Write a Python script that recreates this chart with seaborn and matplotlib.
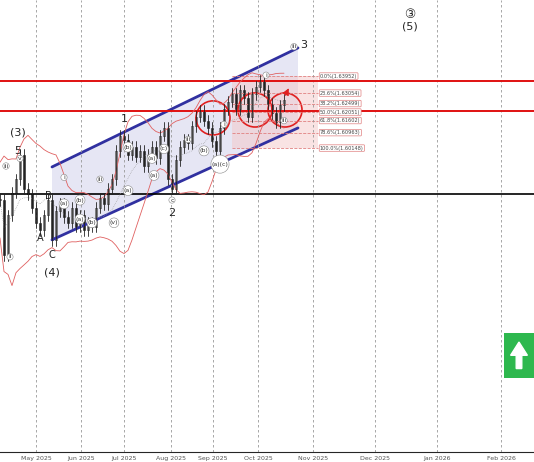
import numpy as np
import pandas as pd
import matplotlib
matplotlib.use("Agg")
import matplotlib.pyplot as plt
import seaborn as sns
from matplotlib.patches import Ellipse, Polygon, Rectangle, FancyArrow

sns.set_style("white")

closes = [1.574, 1.545, 1.566, 1.578, 1.585, 1.598, 1.580, 1.577, 1.570, 1.562, 1.558, 1.566,
          1.574, 1.553, 1.568, 1.572, 1.565, 1.562, 1.570, 1.560, 1.566, 1.558, 1.562, 1.560,
          1.570, 1.575, 1.572, 1.580, 1.585, 1.600, 1.608, 1.606, 1.598, 1.602, 1.597, 1.600,
          1.592, 1.598, 1.602, 1.596, 1.608, 1.612, 1.585, 1.580, 1.595, 1.602, 1.606, 1.604,
          1.613, 1.618, 1.621, 1.616, 1.612, 1.605, 1.600, 1.612, 1.622, 1.626, 1.630, 1.622,
          1.632, 1.628, 1.618, 1.630, 1.634, 1.637, 1.632, 1.625, 1.620, 1.615, 1.624, 1.627]
months = ["May 2025", "Jun 2025", "Jul 2025", "Aug 2025", "Sep 2025", "Oct 2025",
          "Nov 2025", "Dec 2025", "Jan 2026", "Feb 2026"]
month_pos = [9, 20.25, 31, 42.75, 53.25, 64.5, 78.25, 93.75, 109.25, 125.25]
fib_pct = ["0.0%", "23.6%", "38.2%", "50.0%", "61.8%", "78.6%", "100.0%"]
fib_val = [1.63952, 1.63054, 1.62499, 1.62051, 1.61602, 1.60963, 1.60148]
res_lines = [1.6369, 1.6211]
sup_line = 1.5773

df = pd.DataFrame({"close": closes})
df["x"] = np.arange(len(df))
df["open"] = df["close"].shift(1).fillna(df["close"])
df["mid"] = df["close"].rolling(10, min_periods=1).mean()
sd = df["close"].rolling(10, min_periods=2).std().fillna(0.01)
df["up"] = (df["mid"] + 2 * sd).rolling(3, min_periods=1).mean()
df["dn"] = (df["mid"] - 2 * sd).rolling(3, min_periods=1).mean()

fig = plt.figure(figsize=(5.34, 4.62), dpi=100)
ax = fig.add_axes([0, 0.022, 1, 0.978])
ax.set_xlim(0, 133.5)
ax.set_ylim(1.4410, 1.6797)

# channel
ax.add_patch(Polygon([(13, 1.5915), (74.5, 1.6544), (74.5, 1.6121), (13, 1.5530)],
                     closed=True, color="#dcdcf0", alpha=0.7, lw=0))
ax.plot([13, 74.5], [1.5915, 1.6544], color="#3030a0", lw=2)
ax.plot([13, 74.5], [1.5530, 1.6121], color="#3030a0", lw=2)
# fib zone
ax.add_patch(Rectangle((58, fib_val[-1]), 21.5, fib_val[0] - fib_val[-1],
                       color="#f4c8c8", alpha=0.5, lw=0))
for p, v in zip(fib_pct, fib_val):
    ax.plot([58, 79.5], [v, v], color="#e08080", lw=0.6, ls="--")
    ax.text(80, v, f"{p}({v:.5f})", fontsize=3.6, va="center", color="#444",
            bbox=dict(boxstyle="round,pad=0.15", fc="white", ec="#e08080", lw=0.5))

for m in month_pos:
    ax.axvline(m, color="#999", lw=0.6, ls=(0, (3, 3)))
for v in res_lines:
    ax.axhline(v, color="#e01010", lw=1.4)
ax.axhline(sup_line, color="black", lw=1.2)

sns.lineplot(data=df, x="x", y="up", color="#e06060", lw=0.6, ax=ax)
sns.lineplot(data=df, x="x", y="dn", color="#e06060", lw=0.6, ax=ax)
sns.lineplot(data=df, x="x", y="mid", color="#999", lw=0.5, ls=":", ax=ax)
for _, r in df.iterrows():
    hi = max(r.open, r.close) + 0.003
    lo = min(r.open, r.close) - 0.003
    ax.plot([r.x, r.x], [lo, hi], color="#222", lw=0.6)
    ax.add_patch(Rectangle((r.x - 0.3, min(r.open, r.close)), 0.6,
                           max(abs(r.close - r.open), 0.0005),
                           color="white" if r.close >= r.open else "#222",
                           ec="#222", lw=0.4))

for cx, cy in [(53.25, 1.6174), (63.75, 1.6216), (71.25, 1.6216)]:
    ax.add_patch(Ellipse((cx, cy), 8.5, 0.018, fill=False, ec="#e02020", lw=1.2))
ax.annotate("", xy=(72.5, 1.6344), xytext=(71, 1.6280),
            arrowprops=dict(arrowstyle="-|>", color="#e02020", lw=0.8))

labels = [(76, 1.6560, "3", 8), (31, 1.6167, "1", 8), (43, 1.5670, "2", 8),
          (4.5, 1.6095, "(3)", 8), (4.5, 1.6000, "5", 8), (10, 1.5540, "A", 7),
          (12, 1.5760, "B", 7), (13, 1.5450, "C", 7), (13, 1.5355, "(4)", 8),
          (102.5, 1.6720, "③", 9), (102.5, 1.6655, "(5)", 8)]
for lx, ly, t, s in labels:
    ax.text(lx, ly, t, fontsize=s, ha="center", va="center", color="#222")
small = [(5, 1.5960, "v"), (1.5, 1.5920, "iii"), (2.5, 1.5440, "ii"), (16, 1.5860, "i"),
         (16, 1.5720, "(a)"), (20, 1.5640, "(a)"), (23, 1.5620, "(b)"), (32, 1.5790, "(a)"),
         (32, 1.6020, "(b)"), (38, 1.5960, "(a)"), (41, 1.6010, "(c)"), (38.5, 1.5870, "(a)"),
         (43, 1.5740, "c"), (51, 1.6000, "(b)"), (47, 1.6060, "iii"), (55, 1.5930, "(a)(c)"),
         (56, 1.6140, "i"), (66.5, 1.6400, "i"), (71, 1.6160, "iii"), (73.5, 1.6550, "iii"),
         (25, 1.5850, "iii"), (28.5, 1.5620, "(v)"), (20, 1.5740, "(b)")]
for lx, ly, t in small:
    ax.text(lx, ly, t, fontsize=4.5, ha="center", va="center", color="#333",
            bbox=dict(boxstyle="circle,pad=0.1", fc="white", ec="#888", lw=0.4))

ax.add_patch(Rectangle((126, 1.4801), 7.5, 0.0238, color="#2eb84e", lw=0))
ax.add_patch(FancyArrow(129.75, 1.4850, 0, 0.0140, width=1.4, head_width=4.2,
                        head_length=0.0070, color="white", length_includes_head=True))

ax.set_xticks(month_pos)
ax.set_xticklabels(months, fontsize=4.5, color="#555")
ax.tick_params(axis="x", pad=1, length=2)
ax.set_yticks([])
ax.set_xlabel("")
ax.set_ylabel("")
for s in ["top", "right", "left"]:
    ax.spines[s].set_visible(False)
fig.savefig("out.png", dpi=100)
